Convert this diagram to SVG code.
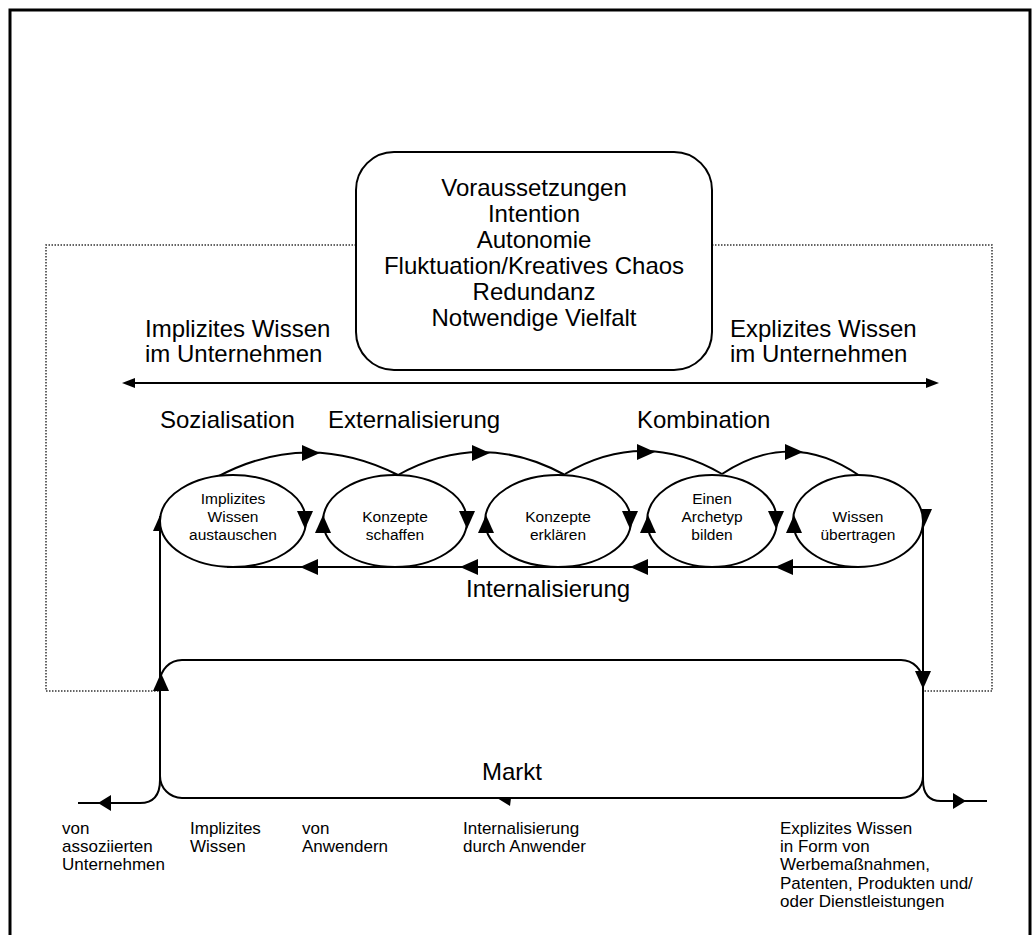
<svg xmlns="http://www.w3.org/2000/svg" xmlns:xlink="http://www.w3.org/1999/xlink" width="1034" height="935" viewBox="0 0 1034 935">
  <style>
    .line { fill: none; stroke: #000; stroke-width: 2; }
    .dotted { fill: none; stroke: #333; stroke-width: 1.5; stroke-dasharray: 1.5 1.5; }
    .node { fill: #fff; stroke: #000; stroke-width: 2; }
    .head { fill: #000; stroke: none; }
    .big { font-family: "Liberation Sans", Arial, sans-serif; font-size: 24px; fill: #000; }
    .lbl { font-family: "Liberation Sans", Arial, sans-serif; font-size: 15.5px; fill: #000; text-anchor: middle; }
    .small { font-family: "Liberation Sans", Arial, sans-serif; font-size: 17px; fill: #000; }
    .mid { text-anchor: middle; }
  </style>
  <defs>
    <!-- arrowheads drawn pointing right, tip at origin -->
    <path id="ah" d="M0,0 L-18,-8 L-18,8 Z"/>
    <path id="ah2" d="M0,0 L-13,-8 L-13,8 Z"/>
    <path id="ahs" d="M0,0 L-13,-5 L-13,5 Z"/>
  </defs>

  <rect width="1034" height="935" fill="#fff"/>
  <!-- outer frame -->
  <rect x="10" y="10" width="1020" height="950" fill="none" stroke="#000" stroke-width="3"/>

  <!-- dotted company boundary -->
  <g id="boundary">
    <path class="dotted" d="M356,245 L46,245 L46,691 L160,691"/>
    <path class="dotted" d="M712,245 L992,245 L992,691 L923,691"/>
  </g>

  <!-- market box -->
  <g id="markt">
    <rect class="node" x="160" y="660" width="763" height="138" rx="22" ry="22"/>
    <text class="big mid" x="512" y="780">Markt</text>
  </g>

  <!-- prerequisites box -->
  <g id="voraussetzungen">
    <rect class="node" x="356" y="152" width="356" height="218" rx="38" ry="38"/>
    <text class="big mid" x="534" y="196">Voraussetzungen</text>
    <text class="big mid" x="534" y="222">Intention</text>
    <text class="big mid" x="534" y="248">Autonomie</text>
    <text class="big mid" x="534" y="274">Fluktuation/Kreatives Chaos</text>
    <text class="big mid" x="534" y="300">Redundanz</text>
    <text class="big mid" x="534" y="326">Notwendige Vielfalt</text>
  </g>

  <g id="implizit-label">
    <text class="big" x="145" y="337">Implizites Wissen</text>
    <text class="big" x="145" y="362">im Unternehmen</text>
  </g>
  <g id="explizit-label">
    <text class="big" x="730" y="337">Explizites Wissen</text>
    <text class="big" x="730" y="362">im Unternehmen</text>
  </g>

  <g id="phase-labels">
    <text class="big" x="160" y="428">Sozialisation</text>
    <text class="big" x="328" y="428">Externalisierung</text>
    <text class="big" x="637" y="428">Kombination</text>
    <text class="big" x="466" y="597">Internalisierung</text>
  </g>

  <!-- connectors -->
  <g id="connectors">
    <!-- implicit / explicit axis -->
    <line class="line" x1="130" y1="383" x2="932" y2="383"/>
    <use xlink:href="#ahs" class="head" transform="translate(122,383) rotate(180)"/>
    <use xlink:href="#ahs" class="head" transform="translate(939,383)"/>

    <!-- arcs over the ellipses -->
    <path class="line" d="M217,477 Q307,429 398,475"/>
    <path class="line" d="M398,475 Q481,429 565,475"/>
    <path class="line" d="M565,474 Q643,428 722,474"/>
    <path class="line" d="M722,474 Q791,428 860,476"/>
    <use xlink:href="#ah" class="head" transform="translate(320,453)"/>
    <use xlink:href="#ah" class="head" transform="translate(490,453)"/>
    <use xlink:href="#ah" class="head" transform="translate(655,452)"/>
    <use xlink:href="#ah" class="head" transform="translate(803,452)"/>

    <!-- internalisation return line -->
    <path class="line" d="M857,567 L227,567"/>
    <use xlink:href="#ah" class="head" transform="translate(300,567) rotate(180)"/>
    <use xlink:href="#ah" class="head" transform="translate(460,567) rotate(180)"/>
    <use xlink:href="#ah" class="head" transform="translate(630,567) rotate(180)"/>
    <use xlink:href="#ah" class="head" transform="translate(775,567) rotate(180)"/>

    <!-- inflow from associated companies / users -->
    <path class="line" d="M78,803 L140,803 C153,803 160,795 160,780 L160,516"/>
    <use xlink:href="#ah2" class="head" transform="translate(98,803) rotate(180)"/>
    <use xlink:href="#ah" class="head" transform="translate(161,673) rotate(-90)"/>
    <use xlink:href="#ah" class="head" transform="translate(161,513) rotate(-90)"/>

    <!-- outflow of explicit knowledge -->
    <path class="line" d="M923,521 L923,780 C923,794 929,801 941,801 L987,801"/>
    <use xlink:href="#ah" class="head" transform="translate(924,527) rotate(90)"/>
    <use xlink:href="#ah" class="head" transform="translate(923,689) rotate(90)"/>
    <use xlink:href="#ah2" class="head" transform="translate(966,801)"/>

    <!-- market internalisation marker -->
    <polygon class="head" points="497,798 511,798 510,806"/>
  </g>

  <!-- knowledge-creation steps -->
  <g id="e1">
    <ellipse class="node" cx="233" cy="521" rx="73" ry="46"/>
    <text class="lbl" x="233" y="504">Implizites</text>
    <text class="lbl" x="233" y="522">Wissen</text>
    <text class="lbl" x="233" y="540">austauschen</text>
  </g>
  <g id="e2">
    <ellipse class="node" cx="395" cy="521" rx="72" ry="46"/>
    <text class="lbl" x="395" y="522">Konzepte</text>
    <text class="lbl" x="395" y="540">schaffen</text>
  </g>
  <g id="e3">
    <ellipse class="node" cx="558" cy="521" rx="73" ry="46"/>
    <text class="lbl" x="558" y="522">Konzepte</text>
    <text class="lbl" x="558" y="540">erklären</text>
  </g>
  <g id="e4">
    <ellipse class="node" cx="712" cy="521" rx="65" ry="46"/>
    <text class="lbl" x="712" y="504">Einen</text>
    <text class="lbl" x="712" y="522">Archetyp</text>
    <text class="lbl" x="712" y="540">bilden</text>
  </g>
  <g id="e5">
    <ellipse class="node" cx="858" cy="521" rx="65" ry="46"/>
    <text class="lbl" x="858" y="522">Wissen</text>
    <text class="lbl" x="858" y="540">übertragen</text>
  </g>

  <!-- arrowheads on the ellipse edges -->
  <g id="cycle-heads">
    <use xlink:href="#ah" class="head" transform="translate(305,529) rotate(90)"/>
    <use xlink:href="#ah" class="head" transform="translate(467,529) rotate(90)"/>
    <use xlink:href="#ah" class="head" transform="translate(630,529) rotate(90)"/>
    <use xlink:href="#ah" class="head" transform="translate(776,529) rotate(90)"/>
    <use xlink:href="#ah" class="head" transform="translate(323,515) rotate(-90)"/>
    <use xlink:href="#ah" class="head" transform="translate(486,515) rotate(-90)"/>
    <use xlink:href="#ah" class="head" transform="translate(648,515) rotate(-90)"/>
    <use xlink:href="#ah" class="head" transform="translate(794,515) rotate(-90)"/>
  </g>

  <!-- captions below the market -->
  <g id="captions">
    <text class="small" x="62" y="834">von</text>
    <text class="small" x="62" y="852">assoziierten</text>
    <text class="small" x="62" y="870">Unternehmen</text>
    <text class="small" x="190" y="834">Implizites</text>
    <text class="small" x="190" y="852">Wissen</text>
    <text class="small" x="302" y="834">von</text>
    <text class="small" x="302" y="852">Anwendern</text>
    <text class="small" x="463" y="834">Internalisierung</text>
    <text class="small" x="463" y="852">durch Anwender</text>
    <text class="small" x="780" y="834">Explizites Wissen</text>
    <text class="small" x="780" y="852">in Form von</text>
    <text class="small" x="780" y="870">Werbemaßnahmen,</text>
    <text class="small" x="780" y="889">Patenten, Produkten und/</text>
    <text class="small" x="780" y="907">oder Dienstleistungen</text>
  </g>
</svg>
